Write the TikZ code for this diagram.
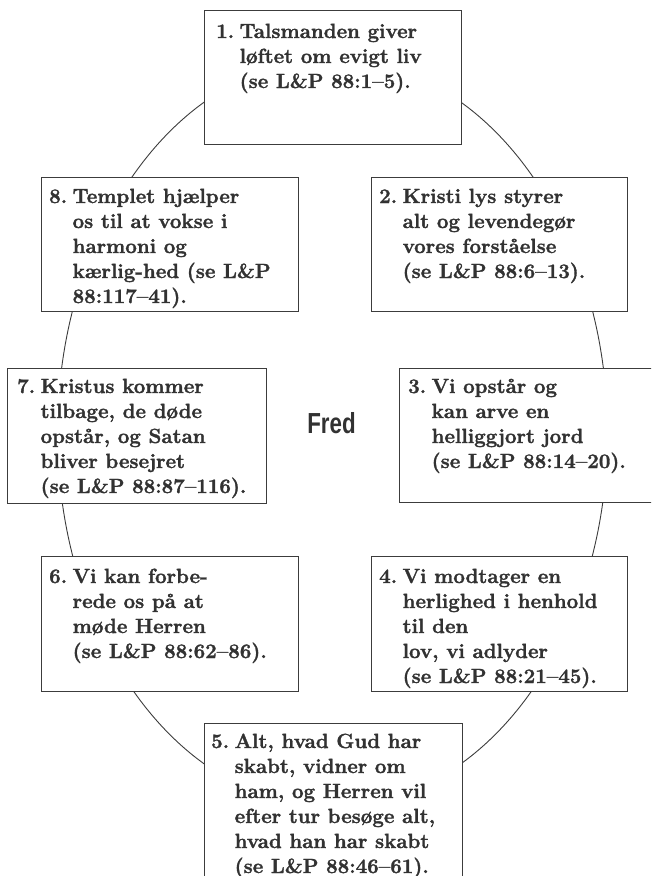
\documentclass[tikz,border=0pt]{standalone}
\usepackage{fontspec}
\newfontfamily\fredfont{Liberation Sans}
\newfontfamily\bodyfont{Latin Modern Roman}[BoldFeatures={FakeBold=1.5}]
\definecolor{ink}{RGB}{50,50,50}
\definecolor{linec}{RGB}{60,60,60}
\newcommand{\itm}[2]{\begin{tabular}[t]{@{}l@{\hspace{5.5pt}}l@{}}#1 & #2\end{tabular}}
\tikzset{
  boxn/.style={draw=linec, line width=1.2pt, fill=white, inner sep=0pt, anchor=north west},
  txt/.style={inner sep=0pt, anchor=base west, text=ink, font=\bodyfont\fontsize{20.5}{25}\selectfont\bfseries},
  ring/.style={draw=linec, line width=0.9pt}
}
\begin{document}
\begin{tikzpicture}[x=1pt,y=-1pt]
\useasboundingbox (0,0) rectangle (651,876);
\clip (0,0) rectangle (651,876);
\coordinate (c) at (332.5,433);
\draw[ring] (c) ellipse [x radius=275pt, y radius=374pt];
% boxes
\node[boxn, minimum width=257pt, minimum height=134pt] (b1) at (204,10) {};
\node[boxn, minimum width=257pt, minimum height=134pt] (b8) at (41,177) {};
\node[boxn, minimum width=256pt, minimum height=134pt] (b2) at (371,177) {};
\node[boxn, minimum width=259pt, minimum height=135pt] (b7) at (7,368) {};
\node[boxn, minimum width=256pt, minimum height=134pt] (b3) at (399,368) {};
\node[boxn, minimum width=257pt, minimum height=135pt] (b6) at (41,556) {};
\node[boxn, minimum width=256pt, minimum height=135pt] (b4) at (371,556) {};
\node[boxn, minimum width=258pt, minimum height=170pt] (b5) at (204,723) {};
% texts
\node[txt] (t1) at (216,38) {\itm{1.}{Talsmanden giver\\ & løftet om evigt liv\\ & (se L\&P 88:1–5).}};
\node[txt] (t8) at (49,203) {\itm{8.}{Templet hjælper\\ & os til at vokse i\\ & harmoni og\\ & kærlig-hed (se L\&P\\ & 88:117–41).}};
\node[txt] (t2) at (379,203) {\itm{2.}{Kristi lys styrer\\ & alt og levendegør\\ & vores forståelse\\ & (se L\&P 88:6–13).}};
\node[txt] (t7) at (17,393) {\itm{7.}{Kristus kommer\\ & tilbage, de døde\\ & opstår, og Satan\\ & bliver besejret\\ & (se L\&P 88:87–116).}};
\node[txt] (t3) at (408,393) {\itm{3.}{Vi opstår og\\ & kan arve en\\ & helliggjort jord\\ & (se L\&P 88:14–20).}};
\node[txt] (t6) at (49,583) {\itm{6.}{Vi kan forbe-\\ & rede os på at\\ & møde Herren\\ & (se L\&P 88:62–86).}};
\node[txt] (t4) at (379,583) {\itm{4.}{Vi modtager en\\ & herlighed i henhold\\ & til den\\ & lov, vi adlyder\\ & (se L\&P 88:21–45).}};
\node[txt] (t5) at (211,748) {\itm{5.}{Alt, hvad Gud har\\ & skabt, vidner om\\ & ham, og Herren vil\\ & efter tur besøge alt,\\ & hvad han har skabt\\ & (se L\&P 88:46–61).}};
\node[inner sep=0pt, anchor=base, text=ink] (fred) at (331.5,433) {\fredfont\fontsize{29}{30}\selectfont\bfseries\scalebox{0.77}[1]{Fred}};
\end{tikzpicture}
\end{document}
